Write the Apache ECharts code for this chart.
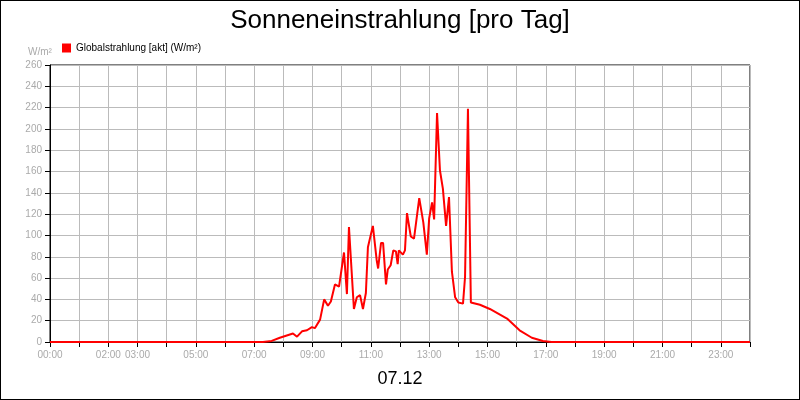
<!DOCTYPE html>
<html><head><meta charset="utf-8">
<script src="https://cdn.jsdelivr.net/npm/echarts@6/dist/echarts.min.js"></script>
<style>html,body{margin:0;padding:0;background:#fff}#c{width:798px;height:398px;border:1px solid #000}</style>
</head><body><div id="c"></div>
<script>
const hours = [0,7.3,7.6,7.88,8.33,8.47,8.64,8.81,8.98,9.08,9.26,9.4,9.53,9.63,9.77,9.91,10.08,10.18,10.25,10.42,10.52,10.63,10.73,10.83,10.9,11.07,11.1,11.2,11.25,11.35,11.42,11.52,11.58,11.68,11.77,11.86,11.92,11.96,12.1,12.17,12.24,12.37,12.48,12.66,12.8,12.92,13.0,13.1,13.17,13.27,13.37,13.47,13.58,13.68,13.78,13.89,14.0,14.16,14.23,14.33,14.37,14.43,14.74,15.08,15.67,16.1,16.52,16.9,17.2,24];
const values = [0,0,1,4,8,5,10,11,14,13,21,40,34,38,54,52,84,45,108,31,42,44,31,46,89,109,109,77,69,93,93,54,68,72,86,85,73,86,82,86,121,99,97,135,112,82,116,131,115,215,161,144,109,136,66,42,37,36,61,219,219,37,35,31,22,11,4,1,0,0];
const tickHours = [0,2,3,5,7,9,11,13,15,17,19,21,23];
const pad = h => (h<10?'0':'')+h+':00';
const chart = echarts.init(document.getElementById('c'));
chart.setOption({
  animation:false,
  title:[{text:'Sonneneinstrahlung [pro Tag]',left:'center',top:2,textStyle:{fontFamily:'Liberation Sans',fontSize:26,fontWeight:'normal',color:'#000'}},
         {text:'07.12',left:'center',top:364,textStyle:{fontFamily:'Liberation Sans',fontSize:18,fontWeight:'normal',color:'#000'}},
         {text:'W/m²',left:22,top:41,textStyle:{fontFamily:'Liberation Sans',fontSize:10,fontWeight:'normal',color:'#aaa'}}],
  legend:{left:56,top:37,itemWidth:9,itemHeight:9,icon:'rect',textStyle:{fontFamily:'Liberation Sans',fontSize:10,color:'#000'},data:['Globalstrahlung [akt] (W/m²)']},
  grid:{left:49,right:49,top:64,bottom:57,show:true,borderColor:'#000',borderWidth:1},
  xAxis:{type:'value',min:0,max:24,interval:1,
    axisLine:{lineStyle:{color:'#000'}},axisTick:{show:true,lineStyle:{color:'#000'}},
    splitLine:{lineStyle:{color:'#bbb'}},
    axisLabel:{color:'#aaa',fontFamily:'Liberation Sans',fontSize:10,formatter:v=>tickHours.includes(v)?pad(v):''}},
  yAxis:{type:'value',min:0,max:260,interval:20,
    axisLine:{show:true,lineStyle:{color:'#000'}},axisTick:{show:true,lineStyle:{color:'#000'}},
    splitLine:{lineStyle:{color:'#bbb'}},
    axisLabel:{color:'#aaa',fontFamily:'Liberation Sans',fontSize:10}},
  series:[{name:'Globalstrahlung [akt] (W/m²)',type:'line',symbol:'none',color:'#f00',lineStyle:{width:2,color:'#f00'},
    data:hours.map((h,i)=>[h,values[i]])}]
});
</script></body></html>
